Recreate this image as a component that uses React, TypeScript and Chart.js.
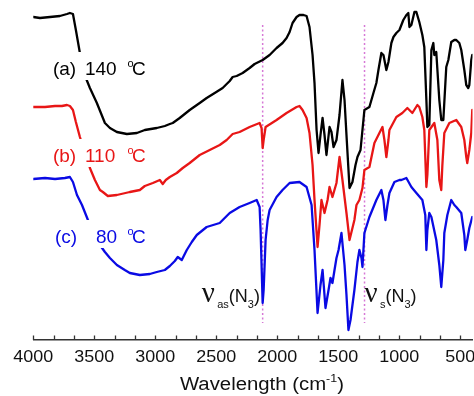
import React, { useEffect, useRef } from 'react';
import { Chart, registerables } from 'chart.js';

Chart.register(...registerables);

// ---- Data (wavenumber cm^-1, transmittance in arbitrary offset units) ----
const WN_A = [4000,3945,3863,3782,3724,3700,3675,3651,3618,3593,3569,3536,3479,3413,3372,3315,3233,3151,3086,2988,2922,2881,2857,2800,2718,2636,2579,2513,2448,2390,2366,2333,2284,2227,2186,2120,2063,2006,1957,1924,1899,1875,1842,1818,1785,1760,1736,1711,1695,1678,1662,1646,1629,1613,1597,1572,1556,1539,1515,1490,1466,1449,1433,1408,1384,1359,1343,1318,1286,1245,1212,1188,1171,1147,1130,1106,1089,1065,1048,1024,999,983,967,942,926,917,901,876,860,836,811,795,778,770,754,737,721,713,697,672,656,639,615,598,574,549,533,508,492,467,451,435,426,410,402];
const T_A = [32.3,32.2,32.3,32.4,32.6,32.7,32.6,31.0,28.7,27.4,26.2,25.2,23.7,21.7,21.2,20.8,20.6,20.7,21.0,21.2,21.4,21.6,21.7,22.2,23.0,23.7,24.2,24.7,25.2,25.9,26.3,26.4,26.7,27.2,27.6,28.0,28.5,29.2,29.7,30.2,30.8,31.7,32.3,32.5,32.5,32.4,31.3,28.5,25.7,21.0,18.7,20.5,22.2,20.5,18.5,21.3,20.8,19.3,20.0,22.5,26.0,24.0,20.5,15.2,15.8,17.5,18.3,19.0,23.0,23.3,24.7,25.7,27.0,28.7,28.5,27.0,27.8,29.7,30.3,30.7,31.0,31.5,32.0,32.5,32.7,31.3,31.5,32.8,32.8,31.8,30.5,29.3,24.0,21.3,21.5,29.0,29.7,28.5,28.8,24.0,22.0,22.0,27.3,28.0,29.8,30.0,30.0,29.7,29.0,27.0,25.5,25.2,25.5,28.0,28.5];

const WN_B = [4000,3904,3822,3765,3724,3700,3675,3651,3618,3577,3536,3495,3454,3430,3389,3315,3209,3127,3086,3020,2963,2939,2914,2881,2824,2775,2718,2636,2554,2472,2415,2366,2309,2227,2186,2145,2129,2120,2112,2096,2006,1924,1842,1818,1793,1760,1736,1711,1695,1670,1654,1638,1613,1588,1572,1548,1515,1490,1466,1433,1408,1384,1368,1351,1327,1302,1286,1245,1204,1163,1138,1122,1106,1089,1081,1024,975,934,893,852,836,811,795,778,770,754,713,688,672,656,647,631,590,533,492,467,451,443,426,410,402];
const T_B = [23.3,23.3,23.4,23.4,23.5,23.4,23.0,21.8,20.3,18.7,17.2,16.0,15.0,14.8,14.4,14.5,14.8,15.0,15.4,15.7,16.0,15.6,16.0,16.3,16.7,17.2,17.7,18.5,19.0,19.5,20.0,20.6,20.8,21.3,21.5,21.7,21.2,19.2,20.0,21.3,22.0,22.7,23.3,23.4,23.0,22.2,20.7,17.5,14.0,9.3,11.5,14.0,12.7,14.0,15.3,14.3,15.7,18.3,16.0,12.7,10.0,11.2,12.0,13.5,14.0,15.2,17.0,17.3,19.7,20.7,21.3,20.0,18.3,20.0,21.0,22.3,22.7,23.2,22.7,23.5,23.3,22.3,21.0,15.3,16.5,21.0,21.7,20.0,16.0,15.0,17.5,20.7,21.7,22.0,21.3,20.0,18.3,17.7,19.0,20.7,23.0];

const WN_C = [4000,3904,3822,3741,3700,3675,3642,3601,3552,3495,3454,3413,3372,3315,3250,3209,3127,3045,2988,2922,2881,2840,2816,2783,2742,2701,2660,2579,2472,2390,2309,2227,2169,2145,2137,2120,2112,2096,2079,2063,2006,1957,1899,1818,1760,1719,1695,1670,1646,1629,1605,1580,1564,1548,1531,1515,1498,1474,1449,1433,1417,1400,1384,1368,1343,1327,1310,1302,1286,1245,1188,1147,1130,1114,1097,1081,1040,999,983,942,901,860,811,787,778,770,754,737,697,672,656,639,631,606,574,549,533,492,467,459,451,443,426,402];
const T_C = [16.1,16.2,16.1,16.2,16.3,15.8,14.5,13.5,12.0,10.5,9.5,8.8,8.2,7.5,7.0,6.7,6.5,6.6,6.8,7.0,7.4,7.9,8.3,8.0,9.0,9.8,10.5,11.3,11.7,12.7,13.3,13.7,14.0,13.3,11.0,3.7,5.0,10.0,12.0,13.0,14.3,15.0,15.7,15.8,15.3,13.5,9.0,2.7,5.5,7.0,3.2,5.0,6.2,5.7,7.0,8.2,9.0,10.7,7.5,4.5,1.0,2.0,3.5,5.0,7.8,9.0,8.2,7.3,10.7,12.3,14.0,15.0,14.0,12.0,13.5,14.7,15.8,16.0,16.0,16.2,15.3,14.7,14.0,12.5,9.0,11.0,12.7,12.3,10.0,7.5,5.3,8.0,10.7,12.5,14.0,13.5,13.3,12.7,10.5,9.0,9.5,10.0,11.2,12.3];

// Marker (dotted) lines for the azide bands
const MARKER_WN = [2120, 1285];
const MARKER_SPAN = [31.5, 1.7];

// Axis
const X_MIN = 400;
const X_MAX = 4000;
const Y_MIN = 0;
const Y_MAX = 34;
const TICK_LABELS = [4000, 3500, 3000, 2500, 2000, 1500, 1000, 500];
const MINOR_PER_MAJOR = 3;

// ---- Styles ----
const SANS = "'Liberation Sans', Arial, sans-serif";
const SERIF = "'Liberation Serif', 'Times New Roman', serif";
const BLACK = '#000000';
const RED = 'rgb(232,22,22)';
const BLUE = 'rgb(10,10,228)';
const MARK = 'rgb(214,120,214)';

type Run = { t: string; size: number; dx?: number; dy?: number; at?: number; family?: string };

function fontOf(r: Run) {
  return `${r.size}px ${r.family || SANS}`;
}

function runsWidth(ctx: CanvasRenderingContext2D, runs: Run[]) {
  let cx = 0;
  for (const r of runs) {
    ctx.font = fontOf(r);
    if (r.at !== undefined) cx = r.at;
    cx += r.dx || 0;
    cx += ctx.measureText(r.t).width;
  }
  return cx;
}

function drawRuns(
  ctx: CanvasRenderingContext2D,
  runs: Run[],
  x: number,
  y: number,
  color: string,
  stretch = 1,
  align: 'left' | 'center' = 'left'
) {
  ctx.save();
  ctx.fillStyle = color;
  ctx.textBaseline = 'alphabetic';
  ctx.textAlign = 'left';
  const w = runsWidth(ctx, runs) * stretch;
  const x0 = align === 'center' ? x - w / 2 : x;
  ctx.translate(x0, y);
  ctx.scale(stretch, 1);
  let cx = 0;
  for (const r of runs) {
    ctx.font = fontOf(r);
    if (r.at !== undefined) cx = r.at;
    cx += r.dx || 0;
    ctx.fillText(r.t, cx, r.dy || 0);
    cx += ctx.measureText(r.t).width;
  }
  ctx.restore();
  return w;
}

// series labels: anchor in data coords (wavenumber, value of text baseline)
const SERIES_LABELS = [
  { color: BLACK, wn: 3839, v: 26.5, runs: [
    { t: '(a)', size: 19, at: 0 }, { t: '140', size: 19, at: 32 }, { t: 'o', size: 11, at: 74.5, dy: -8.5 }, { t: 'C', size: 19, at: 79 },
  ] as Run[] },
  { color: RED, wn: 3839, v: 17.8, runs: [
    { t: '(b)', size: 19, at: 0 }, { t: '110', size: 19, at: 32 }, { t: 'o', size: 11, at: 74.5, dy: -8.5 }, { t: 'C', size: 19, at: 79 },
  ] as Run[] },
  { color: BLUE, wn: 3839, v: 9.7, runs: [
    { t: '(c)', size: 19, at: 2 }, { t: '80', size: 19, at: 43 }, { t: 'o', size: 11, at: 74.5, dy: -8.5 }, { t: 'C', size: 19, at: 79 },
  ] as Run[] },
];

const BAND_LABELS = [
  { wn: 2620, v: 3.8, runs: [
    { t: 'ν', size: 29, family: SERIF, at: 0 }, { t: 'as', size: 11, dy: 6, at: 15.5 }, { t: '(', size: 18 }, { t: 'N', size: 18 }, { t: '3', size: 11, dy: 6 }, { t: ')', size: 18 },
  ] as Run[] },
  { wn: 1286, v: 3.8, runs: [
    { t: 'ν', size: 29, family: SERIF, at: 0 }, { t: 's', size: 11, dy: 6, at: 15.5 }, { t: '(', size: 18 }, { t: 'N', size: 18 }, { t: '3', size: 11, dy: 6 }, { t: ')', size: 18 },
  ] as Run[] },
];

function buildTickValues() {
  const out: number[] = [];
  for (let i = 0; i < TICK_LABELS.length; i++) {
    const major = TICK_LABELS[i];
    out.push(major);
    if (i < TICK_LABELS.length - 1) {
      const next = TICK_LABELS[i + 1];
      for (let k = 1; k < MINOR_PER_MAJOR; k++) out.push(major + ((next - major) * k) / MINOR_PER_MAJOR);
    }
  }
  return out;
}

const overlayPlugin = {
  id: 'irOverlay',
  afterDraw(chart: any) {
    const { ctx, chartArea } = chart;
    const xs = chart.scales.x;
    const ys = chart.scales.y;

    // series labels with white background boxes
    for (const lab of SERIES_LABELS) {
      const px = xs.getPixelForValue(lab.wn);
      const py = ys.getPixelForValue(lab.v);
      const w = runsWidth(ctx, lab.runs);
      ctx.save();
      ctx.fillStyle = '#ffffff';
      ctx.fillRect(px - 2, py - 23, w + 4, 28);
      ctx.restore();
      drawRuns(ctx, lab.runs, px, py, lab.color);
    }

    // band labels
    for (const lab of BAND_LABELS) {
      const px = xs.getPixelForValue(lab.wn);
      const py = ys.getPixelForValue(lab.v);
      drawRuns(ctx, lab.runs, px, py, '#111111');
    }

    // inward tick marks and tick labels
    const bottom = chartArea.bottom;
    ctx.save();
    ctx.strokeStyle = '#333333';
    ctx.lineWidth = 1.3;
    for (const t of xs.ticks) {
      const px = Math.round(xs.getPixelForValue(t.value)) + 0.5;
      ctx.beginPath();
      ctx.moveTo(px, bottom);
      ctx.lineTo(px, bottom - 4.5);
      ctx.stroke();
    }
    ctx.restore();
    for (const v of TICK_LABELS) {
      const px = xs.getPixelForValue(v);
      drawRuns(ctx, [{ t: String(v), size: 16 }], px, bottom + 22, '#111111', 1.12, 'center');
    }

    // axis title
    const cx = (chartArea.left + chartArea.right) / 2 + 9;
    drawRuns(
      ctx,
      [{ t: 'Wavelength (cm', size: 18 }, { t: '-1', size: 11, dy: -8 }, { t: ')', size: 18 }],
      cx,
      bottom + 50,
      '#111111',
      1.13,
      'center'
    );
  },
};

function makeSeries(wn: number[], t: number[], color: string, order: number) {
  const n = Math.min(wn.length, t.length);
  const data = [] as { x: number; y: number }[];
  for (let i = 0; i < n; i++) data.push({ x: wn[i], y: t[i] });
  return {
    data,
    borderColor: color,
    backgroundColor: color,
    borderWidth: 2.3,
    pointRadius: 0,
    tension: 0,
    fill: false,
    borderJoinStyle: 'round' as const,
    borderCapStyle: 'round' as const,
    order,
  };
}

export default function App() {
  const ref = useRef<HTMLCanvasElement | null>(null);

  useEffect(() => {
    if (!ref.current) return;
    const markerSets = MARKER_WN.map((w) => ({
      data: [{ x: w, y: MARKER_SPAN[0] }, { x: w, y: MARKER_SPAN[1] }],
      borderColor: MARK,
      borderWidth: 1.5,
      borderDash: [2, 2.5],
      pointRadius: 0,
      fill: false,
      order: 10,
    }));
    const chart = new Chart(ref.current, {
      type: 'line',
      data: {
        datasets: [
          makeSeries(WN_A, T_A, BLACK, 1),
          makeSeries(WN_B, T_B, RED, 2),
          makeSeries(WN_C, T_C, BLUE, 3),
          ...markerSets,
        ] as any,
      },
      options: {
        responsive: false,
        animation: false,
        devicePixelRatio: 1,
        layout: { padding: { left: 33.3, right: 1.5, top: 0, bottom: 0 } },
        plugins: { legend: { display: false }, tooltip: { enabled: false }, title: { display: false } },
        scales: {
          x: {
            type: 'linear',
            min: X_MIN,
            max: X_MAX,
            reverse: true,
            grid: { display: false },
            border: { display: true, color: '#333333', width: 1.4 },
            ticks: { display: false },
            afterBuildTicks: (scale: any) => {
              scale.ticks = buildTickValues().map((v) => ({ value: v }));
            },
            afterFit: (scale: any) => {
              scale.height = 56;
              scale.paddingLeft = 0;
              scale.paddingRight = 0;
            },
          },
          y: {
            type: 'linear',
            display: false,
            min: Y_MIN,
            max: Y_MAX,
          },
        },
      } as any,
      plugins: [overlayPlugin],
    });
    return () => chart.destroy();
  }, []);

  return (
    <div style={{ position: 'fixed', left: 0, top: 0, width: 474, height: 396, background: '#ffffff' }}>
      <canvas ref={ref} width={474} height={396} style={{ display: 'block' }} />
    </div>
  );
}
